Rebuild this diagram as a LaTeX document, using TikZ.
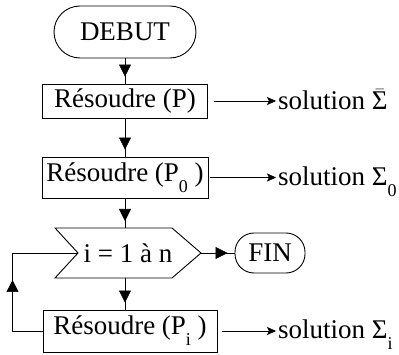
\documentclass[tikz,border=0pt]{standalone}
\usepackage{fontspec}
\setmainfont{Liberation Serif}
\usetikzlibrary{arrows.meta,decorations.markings}
\newcommand{\subx}[1]{\raisebox{-0.4em}{\fontsize{18}{18}\selectfont #1}}
\begin{document}
\begin{tikzpicture}[x=1pt,y=-1pt,
  every node/.style={font=\fontsize{27}{30}\selectfont, inner sep=0pt},
  box/.style={draw, line width=0.9pt, minimum height=34pt},
  term/.style={draw, line width=0.9pt},
  outline/.style={draw, line width=0.9pt},
  flow/.style={line width=0.6pt, postaction={decorate},
    decoration={markings, mark=at position #1 with {\arrow{Triangle[width=12pt,length=12pt]}}}},
  flow/.default=-7pt,
  solarr/.style={line width=0.5pt, -{Stealth[length=9pt,width=8pt,inset=2pt]}},
]
\useasboundingbox (0,0) rectangle (399,355);
% terminals and boxes
\node[term, minimum width=142pt, minimum height=52pt, rounded corners=26pt] (debut) at (125,32) {DEBUT};
\node[box, minimum width=165pt] (b1) at (125,101) {Résoudre (P)};
\node[box, minimum width=166pt, minimum height=41pt] (b2) at (125,177.5) {Résoudre (P\subx{0} )};
\node[box, minimum width=174pt, minimum height=42pt] (b3) at (130,331) {Résoudre (P\subx{i} )};
% loop header shape
\coordinate (hn) at (78,253);
\coordinate (ht) at (201,253);
\coordinate (htop) at (125,228);
\coordinate (hbot) at (125,278);
\draw[outline] (55,228) -- (172,228) -- (ht) -- (172,278) -- (55,278) -- (hn) -- cycle;
\node (hex) at (128,253) {i = 1 à n};
\node[term, minimum width=70pt, minimum height=40pt, rounded corners=19pt] (fin) at (270,253) {FIN};
% flow connectors
\draw[flow] (debut.south) -- (debut.south |- b1.north);
\draw[flow] (b1.south) -- (b1.south |- b2.north);
\draw[flow] (b2.south) -- (htop);
\draw[flow] (hbot) -- (hbot |- b3.north);
\draw[flow=-7pt] (ht) -- (fin.west);
\draw[flow=81pt] (b3.west) -- ++(-30,0) |- (hn);
% solutions
\node[anchor=base west] (s1) at (278,110) {solution $\bar{\mbox{Σ}}$};
\node[anchor=base west] (s2) at (278,186) {solution Σ\subx{0}};
\node[anchor=base west] (s3) at (278,339) {solution Σ\subx{i}};
\draw[solarr, shorten <=6pt, shorten >=2pt] (b1.east) -- (b1.east -| s1.west);
\draw[solarr, shorten <=2pt, shorten >=2pt] (b2.east) -- (b2.east -| s2.west);
\draw[solarr, shorten <=5pt, shorten >=2pt] (b3.east) -- (b3.east -| s3.west);
\end{tikzpicture}
\end{document}
